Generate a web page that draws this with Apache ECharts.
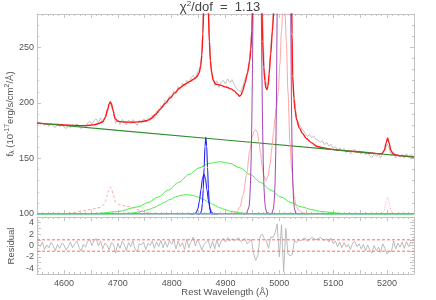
<!DOCTYPE html>
<html><head><meta charset="utf-8">
<script src="https://cdn.jsdelivr.net/npm/echarts@6/dist/echarts.min.js"></script>
<style>html,body{margin:0;padding:0;background:#fff}#c{width:436px;height:300px}</style>
</head><body><div id="c"></div>
<script>
// ---- data grid for observed spectrum / residuals ----
const gridStart = 4552, gridStep = 4;
const specFlux = [
182.5,180.4,181.9,179.6,181.8,178.9,181.2,179.0,177.8,180.9,
178.5,181.1,178.3,176.9,179.4,177.6,180.5,178.2,181.0,179.1,
176.8,180.3,178.0,181.9,183.4,180.6,184.1,185.8,182.0,186.3,
181.9,187.1,190.5,197.6,199.8,192.4,181.7,184.9,180.5,185.2,
183.0,180.4,184.6,181.3,185.0,182.1,179.8,184.3,182.0,185.6,
182.7,186.1,184.0,188.9,186.2,192.5,191.0,197.4,195.5,202.3,
200.1,206.5,204.2,210.8,208.1,214.6,211.9,217.7,215.0,220.3,
217.2,222.6,224.8,221.5,227.4,230.5,241.0,300,345,290,
236,224.5,215.3,219.8,213.9,218.7,220.4,217.1,221.6,218.3,
220.9,216.8,213.0,211.4,209.8,214.5,221.4,226.1,237.0,258,
325,550,760,520,295,232,215.0,218.4,250,275,
340,620,1280,2050,2650,2200,980,480,229,203.5,
186.3,181.2,177.8,175.1,172.6,169.8,171.4,168.7,170.3,167.1,
166.5,164.2,166.0,162.3,164.5,161.0,162.8,159.1,160.6,157.2,
159.5,156.4,158.9,155.2,157.7,154.0,156.8,158.3,154.9,157.0,
153.6,156.2,153.1,155.9,152.2,150.9,154.4,151.8,153.4,150.7,
155.6,157.2,163.0,159.4,152.3,155.9,150.6,154.0,151.2,153.7,
150.3,154.2,151.0,153.5,152.6
];
const residual = [
0.3,-0.2,0.6,-0.7,0.1,-0.4,0.5,0.0,-0.9,0.2,
-0.5,0.4,0.1,-0.8,-0.2,0.6,-0.4,0.3,0.8,-0.3,
-1.0,0.2,-0.3,0.7,1.1,0.0,0.9,1.2,-0.1,0.8,
-0.6,0.4,0.1,-0.8,0.5,0.2,-1.3,0.4,-0.5,0.7,
0.2,-0.9,0.5,-0.2,0.8,-0.6,-1.1,0.3,0.1,0.6,
-0.7,0.4,0.0,0.8,-0.5,0.6,-0.2,0.9,-0.4,0.7,
-0.3,0.9,0.2,1.0,-0.6,0.8,-0.2,0.5,-0.7,1.1,
-0.4,0.7,1.5,-0.1,1.0,0.3,-0.8,0.2,0.6,0.9,
-0.5,0.7,-0.6,1.0,-0.3,0.8,1.3,0.6,1.4,0.8,
1.2,0.9,1.0,1.4,0.7,0.9,1.2,0.3,0.6,1.1,
-1.4,-2.6,-1.8,1.5,2.0,1.2,0.8,-0.5,1.5,1.4,
2.2,3.8,-2.0,3.6,-4.6,3.0,-1.5,-1.8,-1.6,0.9,
0.5,1.0,0.8,1.2,1.3,0.7,1.1,1.4,1.3,1.0,
1.2,1.4,1.1,0.9,1.2,0.6,1.3,0.3,0.8,-0.2,
0.6,-0.4,0.5,-0.3,0.2,-0.7,0.4,0.7,-0.2,0.3,
-0.6,0.2,-0.9,0.1,-0.8,-1.3,0.0,-0.9,-0.3,-1.2,
0.3,-0.5,-1.5,-1.0,-1.1,0.8,-0.6,0.4,-0.3,0.6,
-0.5,0.7,-0.2,0.6,0.3
];
const residBand = [1, -1];

// ---- model curves, [wavelength, flux] ----
const totalModel = [[4550,182.0],[4575,180.9],[4600,180.1],[4620,179.6],[4640,179.5],[4655,180.2],[4665,181.4],[4672,183.0],[4677,187.0],[4681,194.0],[4684,199.0],[4686,200.8],[4688,199.2],[4691,193.5],[4695,186.0],[4700,183.5],[4710,182.8],[4730,182.6],[4745,183.2],[4755,184.2],[4762,186.0],[4770,189.5],[4778,194.0],[4788,199.5],[4797,204.4],[4806,209.0],[4815,213.4],[4825,216.8],[4834,219.4],[4842,221.6],[4847,223.5],[4851,227.0],[4854,233.0],[4856,243.0],[4858,262.0],[4860,295.0],[4863,340.0],[4866,320.0],[4868,285.0],[4870,255.0],[4872,238.0],[4874,228.0],[4877,220.5],[4882,216.8],[4890,216.0],[4901,214.3],[4910,212.6],[4917,210.6],[4922,208.0],[4926,206.0],[4929,207.2],[4932,211.0],[4936,217.5],[4941,227.0],[4945,238.0],[4947,248.0],[4949,265.0],[4951,300.0],[4954,420.0],[4959.6,780.0],[4965,420.0],[4967,300.0],[4969,255.0],[4971,232.0],[4973,220.0],[4975,213.5],[4977,212.0],[4979,215.5],[4981,226.0],[4984,244.0],[4987,264.0],[4990,285.0],[4994,380.0],[5000,1500.0],[5008.5,2800.0],[5016,1200.0],[5020,500.0],[5022,330.0],[5023.5,262.0],[5024.7,224.0],[5027,204.0],[5029,194.0],[5032,185.0],[5037,177.5],[5043,172.5],[5050,168.0],[5060,164.0],[5069,161.0],[5080,159.6],[5095,158.4],[5110,157.5],[5130,156.6],[5150,155.8],[5170,154.9],[5185,154.2],[5191,154.5],[5195,157.5],[5198,163.5],[5201,168.4],[5204,163.5],[5207,157.5],[5211,154.0],[5220,152.7],[5235,152.0],[5250,151.3]];
const continuum = [[4550,181.9],[4700,175.3],[4900,166.6],[5100,157.9],[5250,151.3]];
const broadHb1 = [[4550,100.0],[4585,100.1],[4661,100.5],[4699,102.1],[4737,106.4],[4756,110.2],[4775,115.3],[4794,121.5],[4813,128.5],[4832,135.5],[4851,141.5],[4870,145.6],[4889,147.0],[4908,145.6],[4927,141.5],[4946,135.5],[4965,128.5],[4984,121.5],[5003,115.3],[5022,110.2],[5041,106.4],[5060,104.0],[5079,102.1],[5117,100.5],[5193,100.0],[5250,100.0]];
const broadHb2 = [[4550,100.0],[4664,100.0],[4705,100.2],[4725.5,100.8],[4746,102.4],[4756,103.8],[4766.5,105.6],[4776.75,108.0],[4787,110.6],[4797,113.1],[4807.5,115.4],[4818,116.9],[4828,117.4],[4838,116.9],[4848.5,115.4],[4859,113.1],[4869,110.6],[4879,108.0],[4889.5,105.6],[4900,103.8],[4910,102.4],[4930.5,100.8],[4951,100.2],[4992,100.0],[5250,100.0]];
const narrowHbA = [[4848,100.0],[4850.7,100.0],[4853.9,100.8],[4855.5,103.0],[4857.1,109.3],[4858.7,122.4],[4860.3,141.8],[4861.9,160.9],[4863.5,169.0],[4865.1,160.9],[4866.7,141.8],[4868.3,122.4],[4869.9,109.3],[4871.5,103.0],[4873.1,100.8],[4876.3,100.0],[4880,100.0]];
const narrowHbB = [[4834,100.0],[4837.6,100.0],[4843.2,100.4],[4846,101.6],[4848.8,104.9],[4851.6,111.7],[4854.4,121.8],[4857.2,131.8],[4860,136.0],[4862.8,131.8],[4865.6,121.8],[4868.4,111.7],[4871.2,104.9],[4874,101.6],[4876.8,100.4],[4882.4,100.0],[4886,100.0]];
const narrowO4959 = [[4934,100.0],[4938.8,100.2],[4941.3,101.3],[4943.8,106.7],[4945.05,113.7],[4946.3,126.3],[4947.55,147.8],[4948.8,181.2],[4950.05,229.8],[4951.3,294.8],[4953.8,463.9],[4958.8,700],[4963.8,463.9],[4966.3,294.8],[4967.55,229.8],[4968.8,181.2],[4970.05,147.8],[4971.3,126.3],[4972.55,113.7],[4973.8,106.7],[4976.3,101.3],[4978.8,100.2],[4983,100.0]];
const narrowO5007 = [[4980,100.0],[4986.5,100.8],[4989.25,105.5],[4990.6,112.7],[4992,127.8],[4993.4,157],[4994.75,209.8],[4996.1,299],[4997.5,438],[5003,1616],[5008.5,2600],[5014,1616],[5019.5,438],[5020.9,299],[5022.25,209.8],[5023.6,157],[5025,127.8],[5026.4,112.7],[5027.75,105.5],[5030.5,100.8],[5037,100.0]];
const broadOIII = [[4880,100.0],[4905,100.2],[4915,100.8],[4921,102.0],[4927,106.5],[4933,117.5],[4939,135.0],[4945,157.0],[4950,170.0],[4953,174.5],[4956,176.0],[4959,173.5],[4962,165.0],[4965,155.0],[4968,143.0],[4971,134.5],[4975,130.0],[4979,134.5],[4983,145.5],[4986,159.5],[4989,173.0],[4992,186.0],[4995,197.0],[4998,210.0],[5001,235.0],[5004,265.0],[5007,290.0],[5010,285.0],[5013,255.0],[5016,210.0],[5019.7,164.0],[5022.8,140.0],[5027.7,115.8],[5031,107.0],[5035,103.9],[5044,100.9],[5060,100.1],[5080,100.0]];
const heII = [[4580,100.0],[4605,100.4],[4620,101.3],[4636,103.0],[4650,104.0],[4660,105.0],[4667,106.0],[4673,108.0],[4677,111.5],[4680,116.5],[4683,121.5],[4686,124.3],[4689,122.0],[4692,116.0],[4696,110.5],[4701,108.6],[4710,107.6],[4720,106.6],[4729,105.4],[4740,103.6],[4754,101.2],[4765,100.3],[4790,100.0]];
const line5200 = [[5180,100.0],[5190,100.3],[5194,102.0],[5197,107.5],[5199,112.5],[5201,115.3],[5203,112.5],[5205,107.5],[5208,102.0],[5212,100.3],[5222,100.0]];
const feII = [[4550,100.4],[5250,100.4]];

const xTicks = {min:4550, max:5250, interval:50};
const yTopTicks = {min:100, max:280, interval:50};
const yResTicks = {min:-5, max:5, interval:1};

// ---- build ----
const specData = specFlux.map((v,i)=>[gridStart+i*gridStep, v]);
const resData = residual.map((v,i)=>[gridStart+i*gridStep, v]);

const axisCol = '#c4c4c4';
const lblStyle = {color:'#555', fontSize:9, fontFamily:'Liberation Sans, Arial, sans-serif'};
function xAx(grid, pos, showLabel){
  return {type:'value', gridIndex:grid, position:pos, min:xTicks.min, max:xTicks.max, interval:xTicks.interval,
    axisLine:{show:true, onZero:false, lineStyle:{color:axisCol, width:1}},
    axisTick:{show:true, inside:true, length:4, lineStyle:{color:axisCol}},
    minorTick:{show:true, splitNumber:5, length:2, lineStyle:{color:axisCol}},
    splitLine:{show:false}, minorSplitLine:{show:false},
    axisLabel:Object.assign({show:showLabel, margin:5, formatter:v=> (v%100===0 ? String(v) : '')}, lblStyle)};
}
function yAx(grid, pos, t, showLabel, step, minorSplit){
  return {type:'value', gridIndex:grid, position:pos, min:t.min, max:t.max, interval:t.interval,
    axisLine:{show:true, onZero:false, lineStyle:{color:axisCol, width:1}},
    axisTick:{show:true, inside:true, length:4, lineStyle:{color:axisCol}},
    minorTick:{show:true, splitNumber:minorSplit, length:2, lineStyle:{color:axisCol}},
    splitLine:{show:false}, minorSplitLine:{show:false},
    axisLabel:Object.assign({show:showLabel, margin:3, formatter:v=> (Math.abs(v%step)<1e-9 ? String(v) : '')}, lblStyle)};
}
function ln(data, color, width, opts){
  return Object.assign({type:'line', data:data, symbol:'none', silent:true, animation:false, clip:true,
    xAxisIndex:0, yAxisIndex:0, lineStyle:{color:color, width:width}, itemStyle:{color:color}}, opts||{});
}

const chart = echarts.init(document.getElementById('c'), null, {renderer:'canvas'});
chart.setOption({
  animation:false,
  backgroundColor:'#fff',
  grid:[{left:37, right:22, top:14, height:200},{left:37, right:22, top:217, height:57}],
  xAxis:[xAx(0,'bottom',false), xAx(0,'top',false), xAx(1,'bottom',true), xAx(1,'top',false)],
  yAxis:[yAx(0,'left',yTopTicks,true,50,5), yAx(0,'right',yTopTicks,false,50,5),
         yAx(1,'left',yResTicks,true,2,2), yAx(1,'right',yResTicks,false,2,2)],
  series:[
    ln(specData,'#bcbcbc',0.9),
    ln(totalModel,'#ff1a1a',1.4,{smooth:0.3, smoothMonotone:'x'}),
    ln(continuum,'#2f8f2f',1.2),
    ln(broadHb1,'#44ee44',1,{smooth:0.3, smoothMonotone:'x'}),
    ln(broadHb2,'#44ee44',1,{smooth:0.3, smoothMonotone:'x'}),
    ln(broadOIII,'#ffa3a3',1,{smooth:0.3, smoothMonotone:'x'}),
    ln(heII,'#ffa3a3',1,{smooth:0.3, smoothMonotone:'x', lineStyle:{color:'#ffa3a3', width:1, type:[3,2]}}),
    ln(line5200,'#ffa3a3',1,{smooth:0.3, smoothMonotone:'x', lineStyle:{color:'#ffa3a3', width:1, type:[1,1.5]}}),
    ln(narrowHbB,'#2020ff',1.1,{smooth:0.3, smoothMonotone:'x'}),
    ln(narrowHbA,'#2020ff',1.1,{smooth:0.3, smoothMonotone:'x'}),
    ln(narrowO4959,'#9933aa',0.9),
    ln(narrowO5007,'#9933aa',0.9),
    ln(feII,'#00e0e0',1.2),
    ln(resData,'#b4b4b4',0.9,{xAxisIndex:2, yAxisIndex:2}),
    ln([[xTicks.min,residBand[0]],[xTicks.max,residBand[0]]],'#ff6a6a',1,{xAxisIndex:2, yAxisIndex:2, lineStyle:{color:'#ff6a6a', width:1, type:[3,2]}}),
    ln([[xTicks.min,residBand[1]],[xTicks.max,residBand[1]]],'#ff6a6a',1,{xAxisIndex:2, yAxisIndex:2, lineStyle:{color:'#ff6a6a', width:1, type:[3,2]}})
  ],
  graphic:[
    {type:'text', x:220, y:7, style:{text:'χ{sup|2}/dof  =  1.13', fill:'#444', font:'13px Liberation Sans, Arial, sans-serif', align:'center', verticalAlign:'middle',
      rich:{sup:{fontSize:8, verticalAlign:'top', padding:[0,0,6,0], fill:'#444', fontFamily:'Liberation Sans'}}}},
    {type:'text', x:10, y:114, rotation:Math.PI/2, style:{text:'f{sub|λ} (10{sup|-17}erg/s/cm{sup|2}/Å)', fill:'#555', font:'9.5px Liberation Sans, Arial, sans-serif', align:'center', verticalAlign:'middle',
      rich:{sup:{fontSize:7, padding:[0,0,5,0], fill:'#555', fontFamily:'Liberation Sans'}, sub:{fontSize:7, padding:[4,0,0,0], fill:'#555', fontFamily:'Liberation Sans'}}}},
    {type:'text', x:11, y:246, rotation:Math.PI/2, style:{text:'Residual', fill:'#555', font:'9.5px Liberation Sans, Arial, sans-serif', align:'center', verticalAlign:'middle'}},
    {type:'text', x:225, y:292, style:{text:'Rest Wavelength (Å)', fill:'#555', font:'9.5px Liberation Sans, Arial, sans-serif', align:'center', verticalAlign:'middle'}}
  ]
});
</script></body></html>
